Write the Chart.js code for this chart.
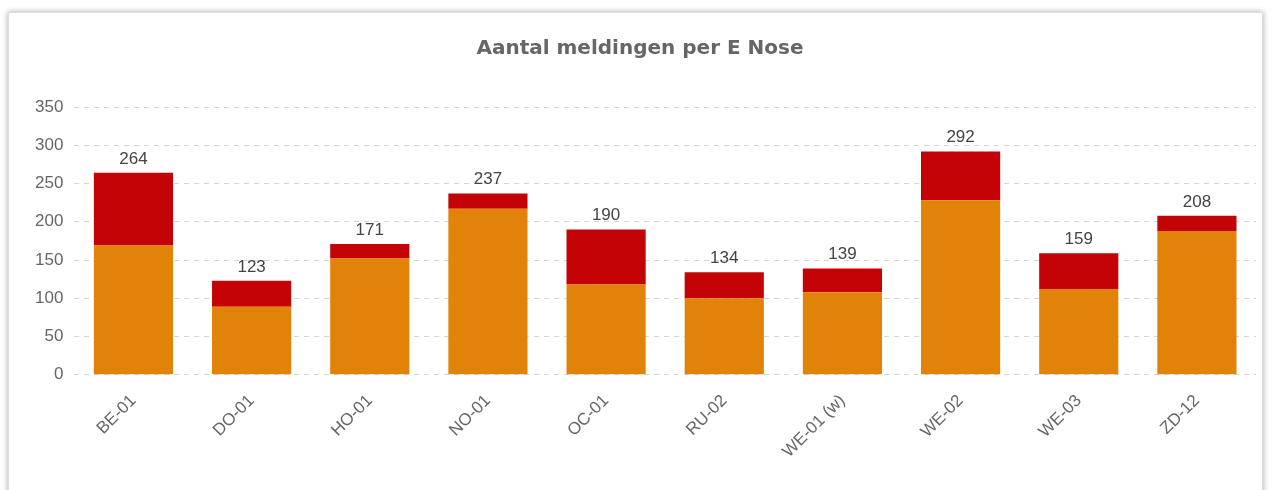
<!DOCTYPE html>
<html>
<head>
<meta charset="utf-8">
<script src="https://cdn.jsdelivr.net/npm/chart.js@4"></script>
<style>
  html, body { margin: 0; padding: 0; background: #fff; }
  #card {
    position: absolute; left: 8px; top: 12px; width: 1253px; height: 500px;
    border: 1px solid #ddd; box-shadow: 0 0 6px rgba(0,0,0,0.35); background: #fff;
  }
  #wrap { position: absolute; left: 0; top: 0; width: 1272px; height: 490px; }
</style>
</head>
<body>
<div id="card"></div>
<div id="wrap"><canvas id="chart"></canvas></div>
<script>
// categories and values
const categories = ["BE-01", "DO-01", "HO-01", "NO-01", "OC-01", "RU-02", "WE-01 (w)", "WE-02", "WE-03", "ZD-12"];
const lowerValues = [169, 89, 152, 217, 118, 100, 108, 228, 112, 188];
const upperValues = [95, 34, 19, 20, 72, 34, 31, 64, 47, 20];
const totals = [264, 123, 171, 237, 190, 134, 139, 292, 159, 208];

// draws the total above each stacked bar
const totalLabels = {
  id: "totalLabels",
  afterDatasetsDraw(chart) {
    const ctx = chart.ctx;
    const meta = chart.getDatasetMeta(1);
    ctx.save();
    ctx.font = "17px 'Liberation Sans', Arial, sans-serif";
    ctx.fillStyle = "#444";
    ctx.textAlign = "center";
    ctx.textBaseline = "alphabetic";
    meta.data.forEach((bar, i) => {
      ctx.fillText(totals[i], bar.x, bar.y - 9);
    });
    ctx.restore();
  }
};

new Chart(document.getElementById("chart"), {
  type: "bar",
  plugins: [totalLabels],
  data: {
    labels: categories,
    datasets: [
      { label: "A", data: lowerValues, backgroundColor: "#E08308", categoryPercentage: 0.67, barPercentage: 1 },
      { label: "B", data: upperValues, backgroundColor: "#C30306", categoryPercentage: 0.67, barPercentage: 1 },
    ],
  },
  options: {
    responsive: true,
    maintainAspectRatio: false,
    animation: false,
    layout: { padding: { left: 24, right: 16, top: 22, bottom: 20 } },
    plugins: {
      legend: { display: false },
      tooltip: { enabled: false },
      title: {
        display: true,
        text: "Aantal meldingen per E Nose",
        color: "#666",
        font: { family: "'DejaVu Sans', Verdana, sans-serif", size: 20, weight: "bold" },
        padding: { top: 15, bottom: 46 },
      },
    },
    scales: {
      x: {
        stacked: true,
        grid: { display: false },
        border: { display: false },
        ticks: {
          color: "#666",
          font: { family: "'Liberation Sans', Arial, sans-serif", size: 17 },
          minRotation: 45,
          maxRotation: 45,
          padding: 8,
        },
      },
      y: {
        stacked: true,
        min: 0,
        max: 350,
        border: { display: false, dash: (c) => (c.tick && c.tick.value % 50 === 0 ? [5, 5] : [2, 2]) },
        grid: {
          drawTicks: false,
          color: (c) => (c.tick && c.tick.value % 50 === 0 ? "#d4d4d4" : "#ececec"),
        },
        ticks: {
          stepSize: 25,
          color: "#666",
          font: { family: "'Liberation Sans', Arial, sans-serif", size: 17 },
          padding: 11,
          callback: (v) => (v % 50 === 0 ? v : ""),
        },
      },
    },
  },
});
</script>
</body>
</html>
